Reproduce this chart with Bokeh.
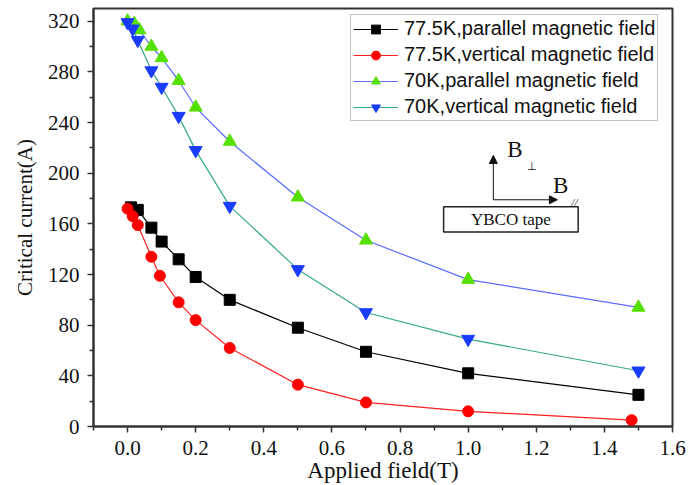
import math
from bokeh.plotting import figure
from bokeh.models import (Legend, LegendItem, Arrow, NormalHead, BoxAnnotation,
                          Label, FixedTicker, Range1d, PrintfTickFormatter)
from bokeh.embed import file_html
from bokeh.resources import INLINE

# ---- data ----
x_775_par = [0.01, 0.03, 0.07, 0.1, 0.15, 0.2, 0.3, 0.5, 0.7, 1.0, 1.5]
y_775_par = [173, 171, 157, 146, 132, 118, 100, 78, 59, 42, 25]

x_775_ver = [0.0, 0.015, 0.03, 0.07, 0.095, 0.15, 0.2, 0.3, 0.5, 0.7, 1.0, 1.48]
y_775_ver = [172, 166, 159, 134, 119, 98, 84, 62, 33, 19, 12, 5]

x_70_par = [0.0, 0.02, 0.035, 0.07, 0.1, 0.15, 0.2, 0.3, 0.5, 0.7, 1.0, 1.5]
y_70_par = [320, 318, 313, 300, 291, 273, 252, 225, 181, 147, 116, 94]

x_70_ver = [0.0, 0.015, 0.03, 0.07, 0.1, 0.15, 0.2, 0.3, 0.5, 0.7, 1.0, 1.5]
y_70_ver = [319, 314, 305, 281, 268, 245, 218, 174, 124, 90, 69, 44]

labels = ["77.5K,parallel magnetic field", "77.5K,vertical magnetic field",
          "70K,parallel magnetic field", "70K,vertical magnetic field"]

x_ticks = [0.0, 0.2, 0.4, 0.6, 0.8, 1.0, 1.2, 1.4, 1.6]
x_minor = [-0.1, 0.1, 0.3, 0.5, 0.7, 0.9, 1.1, 1.3, 1.5]
y_ticks = [0, 40, 80, 120, 160, 200, 240, 280, 320]
y_minor = [20, 60, 100, 140, 180, 220, 260, 300]

SERIF = "Liberation Serif"
SANS = "Liberation Sans"

p = figure(width=688, height=485, x_range=Range1d(-0.1, 1.6), y_range=Range1d(0, 330),
           output_backend="svg", toolbar_location=None,
           min_border_left=93, min_border_right=16, min_border_top=8, min_border_bottom=58)

p.xgrid.visible = False
p.ygrid.visible = False
p.outline_line_color = "#333333"
p.outline_line_width = 2

for ax in (p.xaxis[0], p.yaxis[0]):
    ax.axis_line_color = "#333333"
    ax.axis_line_width = 2
    ax.major_tick_line_color = "#333333"
    ax.minor_tick_line_color = "#333333"
    ax.major_tick_line_width = 1.5
    ax.minor_tick_line_width = 1.5
    ax.major_tick_in = 0
    ax.major_tick_out = 6
    ax.minor_tick_in = 0
    ax.minor_tick_out = 4
    ax.major_label_text_font = SERIF
    ax.major_label_text_font_size = "21px"
    ax.major_label_text_color = "#111111"
    ax.axis_label_text_font = SERIF
    ax.axis_label_text_font_style = "normal"
    ax.axis_label_text_color = "#111111"

p.xaxis.ticker = FixedTicker(ticks=x_ticks, minor_ticks=x_minor)
p.yaxis.ticker = FixedTicker(ticks=y_ticks, minor_ticks=y_minor)
p.xaxis.formatter = PrintfTickFormatter(format="%.1f")
p.xaxis.axis_label = "Applied field(T)"
p.yaxis.axis_label = "Critical current(A)"
p.xaxis.axis_label_text_font_size = "23px"
p.yaxis.axis_label_text_font_size = "21px"
p.xaxis.major_label_standoff = 8
p.xaxis.axis_label_standoff = 0
p.yaxis.major_label_standoff = 8
p.yaxis.axis_label_standoff = 8

series = [
    (x_775_par, y_775_par, "#000000", "square", "#000000", 11, 8),
    (x_775_ver, y_775_ver, "#ff2020", "circle", "#ff0000", 11, 9),
    (x_70_par, y_70_par, "#5a6cff", "triangle", "#55e000", 13, 9),
    (x_70_ver, y_70_ver, "#33aa88", "inverted_triangle", "#1a3cff", 13, 9),
]

items = []
nan = [float("nan")]
for (xs, ys, lc, mk, mc, sz, lsz), lab in zip(series, labels):
    lr = p.line(xs, ys, line_color=lc, line_width=1.2)
    p.scatter(xs, ys, marker=mk, size=sz, fill_color=mc, line_color=mc)
    dummy = p.scatter(nan, nan, marker=mk, size=lsz, fill_color=mc, line_color=mc)
    items.append(LegendItem(label=lab, renderers=[lr, dummy]))

legend = Legend(items=items, location=(257, 305), padding=2,
                spacing=3, label_height=22, glyph_height=22, glyph_width=45,
                label_standoff=6, label_text_font=SANS, label_text_font_size="20px",
                label_text_color="#111111",
                border_line_color="#888888", border_line_width=1.2,
                background_fill_color="white", background_fill_alpha=1.0)
p.add_layout(legend)

# ---- field direction sketch ----
p.add_layout(Arrow(x_start=1.074, y_start=179, x_end=1.074, y_end=214,
                   line_color="#111111", line_width=1,
                   end=NormalHead(size=8, fill_color="#111111", line_color="#111111")))
p.add_layout(Arrow(x_start=1.074, y_start=179, x_end=1.262, y_end=179,
                   line_color="#111111", line_width=1,
                   end=NormalHead(size=8, fill_color="#111111", line_color="#111111")))
p.add_layout(BoxAnnotation(left=0.928, right=1.323, bottom=153.5, top=173.5,
                           fill_alpha=0, line_color="#222222", line_width=1.5,
                           line_alpha=1.0))
p.add_layout(Label(x=1.1255, y=163.5, text="YBCO tape", text_align="center",
                   text_baseline="middle", text_font=SERIF, text_font_size="17px",
                   text_color="#111111"))
p.add_layout(Label(x=1.115, y=219, text="B", text_align="left", text_baseline="middle",
                   text_font=SERIF, text_font_size="23px", text_color="#111111"))
p.add_layout(Label(x=1.172, y=206, text="\u22a5", text_align="left", text_baseline="middle",
                   text_font=SERIF, text_font_size="11px", text_color="#111111"))
p.add_layout(Label(x=1.249, y=190, text="B", text_align="left", text_baseline="middle",
                   text_font=SERIF, text_font_size="23px", text_color="#111111"))
p.add_layout(Label(x=1.303, y=177, text="//", text_align="left", text_baseline="middle",
                   text_font=SERIF, text_font_size="11px", text_font_style="italic",
                   text_color="#111111"))

open("out.html", "w").write(file_html(p, INLINE))
